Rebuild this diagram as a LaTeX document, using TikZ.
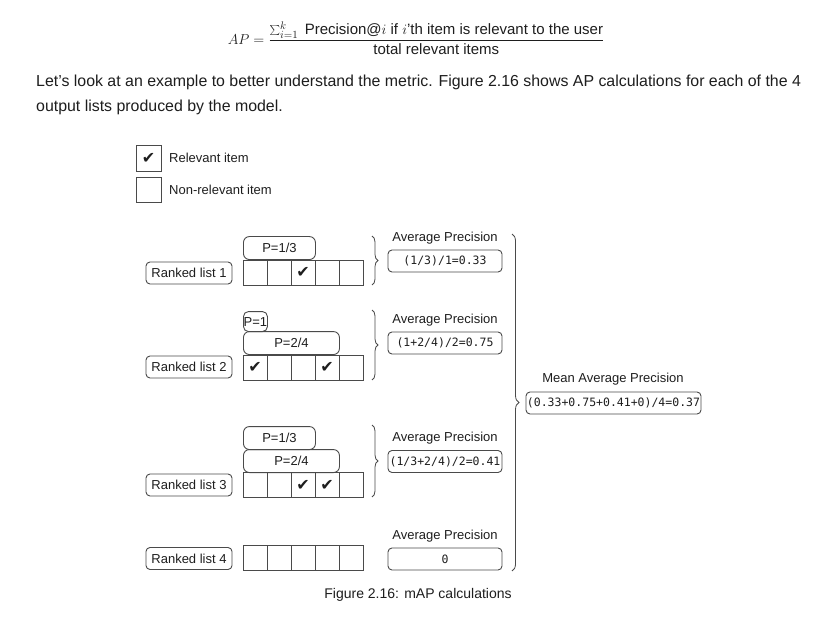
\documentclass[tikz,border=0pt]{standalone}
\usepackage{fontspec}
\setmainfont{Liberation Sans}
\newfontfamily\monof{DejaVu Sans Mono}
\newfontfamily\symf{DejaVu Sans}
\usetikzlibrary{decorations.pathreplacing}
\definecolor{ink}{HTML}{1E1E1E}
\definecolor{edge}{HTML}{4A4A4A}
\tikzset{
  lbl/.style={draw=edge, line width=0.9pt, rounded corners=4pt, minimum width=86pt, minimum height=22pt, inner sep=0pt, font=\fontsize{13}{15}\selectfont, text=ink},
  cell/.style={draw=edge, line width=0.9pt, minimum width=24pt, minimum height=25pt, inner sep=0pt},
  pbox/.style={draw=edge, line width=0.9pt, rounded corners=6pt, minimum height=23pt, inner sep=0pt, font=\fontsize{13}{15}\selectfont, text=ink},
  apbox/.style={draw=edge, line width=0.9pt, rounded corners=4pt, minimum width=114pt, minimum height=22pt, inner sep=0pt, font=\monof\fontsize{11.5}{14}\selectfont, text=ink},
  txt/.style={inner sep=0pt, font=\fontsize{13}{15}\selectfont, text=ink},
  ck/.style={inner sep=0pt, font=\symf\fontsize{16}{16}\selectfont, text=ink},
  brc/.style={draw=edge, line width=0.8pt, decorate, decoration={brace, amplitude=#1}},
}
\begin{document}
\begin{tikzpicture}[x=1pt,y=-1pt]
\fill[white] (0,0) rectangle (827,620);
\useasboundingbox (0,0) rectangle (827,620);
% formula
\node[inner sep=0pt, text=ink, font=\fontsize{15}{18}\selectfont] (formula) at (416,38)
  {$\displaystyle AP = \frac{\textstyle\sum_{i=1}^{k}\;\mbox{Precision@}i\ \mbox{if } i\mbox{'th item is relevant to the user}}{\mbox{total relevant items}}$};
% paragraph
\node[anchor=west, inner sep=0pt, text=ink, font=\fontsize{15.9}{19}\selectfont] (para1) at (36,82)
  {Let's look at an example to better understand the metric. Figure 2.16 shows AP calculations for each of the 4};
\node[anchor=west, inner sep=0pt, text=ink, font=\fontsize{15.9}{19}\selectfont] (para2) at (36,107)
  {output lists produced by the model.};
% legend
\node[cell, minimum width=25pt, minimum height=26pt] (legA) at (148.5,158) {};
\node[ck] (legAck) at (legA) {✔};
\node[txt, anchor=west] (legAt) at (169,158) {Relevant item};
\node[cell, minimum width=25pt, minimum height=25pt] (legB) at (148.5,189.5) {};
\node[txt, anchor=west] (legBt) at (169,189.5) {Non-relevant item};
% ranked list 1
\node[lbl] (r1) at (189,273) {Ranked list 1};
\foreach \i in {1,...,5} \node[cell] (a\i) at ({243+24*(\i-1)+12},272.5) {};
\node[ck] (ck13) at (a3) {✔};
\node[pbox, minimum width=72pt, anchor=south west] (p1) at (243,260) {P=1/3};
\coordinate (b1t) at (372,236);
\coordinate (b1b) at (372,285);
\draw[brc=6pt] (b1t) -- (b1b);
\node[txt] (ap1t) at (445,238) {Average Precision};
\node[apbox] (ap1) at (445,261) {(1/3)/1=0.33};
% ranked list 2
\node[lbl] (r2) at (189,367) {Ranked list 2};
\foreach \i in {1,...,5} \node[cell] (b\i) at ({243+24*(\i-1)+12},367.5) {};
\node[ck] (ck21) at (b1) {✔};
\node[ck] (ck24) at (b4) {✔};
\node[pbox, minimum width=96pt, anchor=south west] (p22) at (243,355) {P=2/4};
\node[pbox, minimum width=24pt, minimum height=20pt, rounded corners=5pt, anchor=south west] (p21) at (243,332) {P=1};
\coordinate (b2t) at (372,310);
\coordinate (b2b) at (372,380);
\draw[brc=6pt] (b2t) -- (b2b);
\node[txt] (ap2t) at (445,320) {Average Precision};
\node[apbox] (ap2) at (445,343) {(1+2/4)/2=0.75};
% ranked list 3
\node[lbl] (r3) at (189,485) {Ranked list 3};
\foreach \i in {1,...,5} \node[cell] (c\i) at ({243+24*(\i-1)+12},485) {};
\node[ck] (ck33) at (c3) {✔};
\node[ck] (ck34) at (c4) {✔};
\node[pbox, minimum width=96pt, anchor=south west] (p32) at (243,473) {P=2/4};
\node[pbox, minimum width=72pt, anchor=south west] (p31) at (243,450) {P=1/3};
\coordinate (b3t) at (372,425);
\coordinate (b3b) at (372,497);
\draw[brc=6pt] (b3t) -- (b3b);
\node[txt] (ap3t) at (445,438) {Average Precision};
\node[apbox] (ap3) at (445,461.5) {(1/3+2/4)/2=0.41};
% ranked list 4
\node[lbl] (r4) at (189,558.5) {Ranked list 4};
\foreach \i in {1,...,5} \node[cell] (d\i) at ({243+24*(\i-1)+12},558) {};
\node[txt] (ap4t) at (445,536) {Average Precision};
\node[apbox] (ap4) at (445,559) {0};
% big brace
\coordinate (bbt) at (512,234);
\coordinate (bbb) at (512,571);
\draw[brc=7pt] (bbt) -- (bbb);
\node[txt] (mapt) at (613,379) {Mean Average Precision};
\node[apbox, minimum width=175pt] (map) at (613.5,403) {(0.33+0.75+0.41+0)/4=0.37};
% caption
\node[txt, font=\fontsize{14}{16}\selectfont] (cap) at (418,595) {Figure 2.16: mAP calculations};
\end{tikzpicture}
\end{document}
